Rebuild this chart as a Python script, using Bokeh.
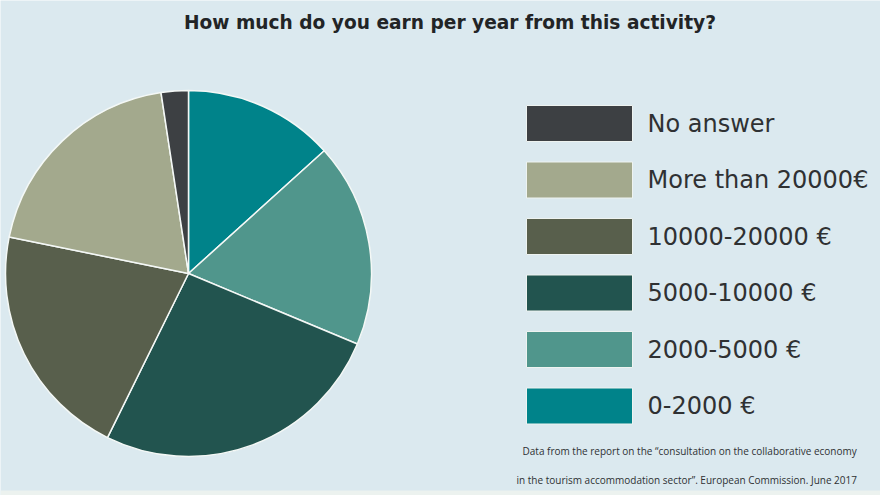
import numpy as np
from bokeh.plotting import figure
from bokeh.models import Range1d, ColumnDataSource
from bokeh.core.properties import value
from bokeh.embed import file_html
from bokeh.resources import INLINE

# Data (clockwise from 12 o'clock)
categories = ["0-2000 €", "2000-5000 €", "5000-10000 €", "10000-20000 €", "More than 20000€", "No answer"]
shares = [13.3, 18.0, 26.0, 20.9, 19.4, 2.4]
colors = ["#00838a", "#50968c", "#22544f", "#585f4c", "#a3a98d", "#3d4043"]
title_text = "How much do you earn per year from this activity?"
note_lines = ['Data from the report on the “consultation on the collaborative economy',
              'in the tourism accommodation sector”. European Commission. June 2017']

W, H = 880, 495
BG = "#dbe9ef"

p = figure(width=W, height=H, output_backend="svg", toolbar_location=None,
           x_range=Range1d(0, W), y_range=Range1d(0, H),
           x_axis_location=None, y_axis_location=None,
           background_fill_color=BG, border_fill_color=BG, min_border=0)
p.outline_line_color = None
p.grid.visible = False

# light strip at the very bottom
p.quad(left=0, right=W, bottom=0, top=5, fill_color="#ecf2ef", line_color=None)

# Pie
total = float(sum(shares))
cum = np.cumsum([0.0] + shares) / total
starts = np.pi / 2 - 2 * np.pi * cum[1:]
ends = np.pi / 2 - 2 * np.pi * cum[:-1]
cx, cy, r = 188, 222, 183
src = ColumnDataSource(dict(start=starts, end=ends, color=colors))
p.wedge(x=cx, y=cy, radius=r, start_angle="start", end_angle="end",
        fill_color="color", line_color="#f4f8f6", line_width=1.5, source=src)

# Legend (top to bottom: reversed order)
leg_labels = categories[::-1]
leg_colors = colors[::-1]
top_y = H - 123
step = 56.5
ys = [top_y - i * step for i in range(len(leg_labels))]
p.rect(x=[579] * len(ys), y=ys, width=106, height=36,
       fill_color=leg_colors, line_color="#eef3f0", line_width=1)
p.text(x=[647] * len(ys), y=ys, text=leg_labels,
       text_font=value("DejaVu Sans"), text_font_size="24px",
       text_color="#2f3133", text_baseline="middle", text_align="left")

# Title
p.text(x=[449.5], y=[H - 22], text=[title_text],
       text_font=value("DejaVu Sans"), text_font_style="bold", text_font_size="18.6px",
       text_color="#222426", text_baseline="middle", text_align="center")

# Footnote
p.text(x=[522, 516], y=[H - 450, H - 479], text=note_lines,
       text_font=value("Open Sans"), text_font_size="10px",
       text_color="#2f3133", text_baseline="middle", text_align="left")

open("out.html", "w").write(file_html(p, INLINE))
